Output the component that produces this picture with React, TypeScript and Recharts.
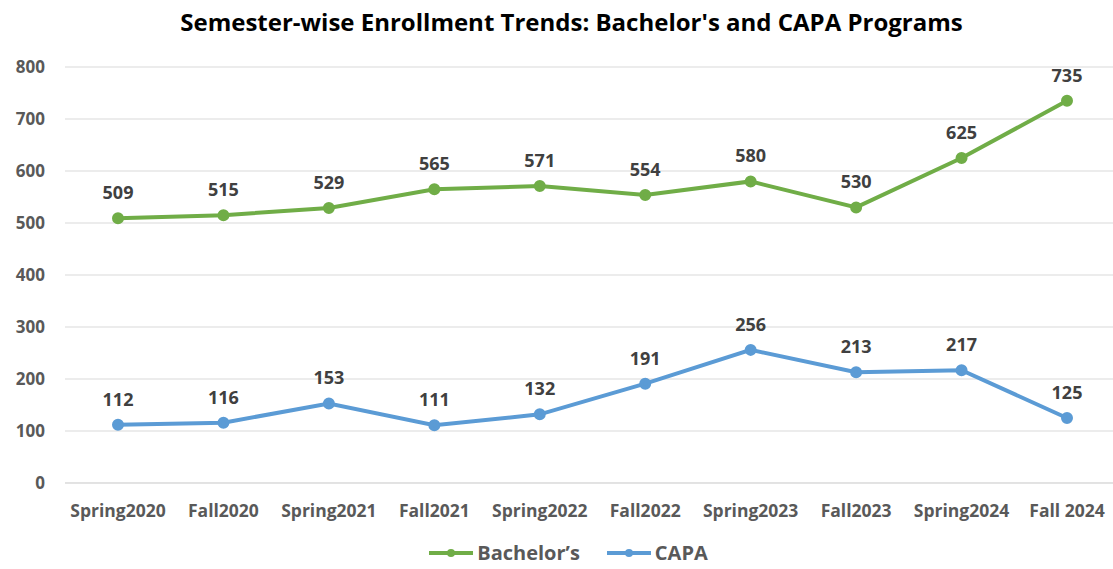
import { LineChart, Line, XAxis, YAxis, CartesianGrid, Legend, LabelList } from "recharts";

const semesters = [
  "Spring2020", "Fall2020", "Spring2021", "Fall2021", "Spring2022",
  "Fall2022", "Spring2023", "Fall2023", "Spring2024", "Fall 2024",
];
const bachelors = [509, 515, 529, 565, 571, 554, 580, 530, 625, 735];
const capa = [112, 116, 153, 111, 132, 191, 256, 213, 217, 125];
const yTicks = [0, 100, 200, 300, 400, 500, 600, 700, 800];

const data = semesters.map((s, i) => ({ name: s, bachelors: bachelors[i], capa: capa[i] }));

const FONT = "'Open Sans', sans-serif";
const GREEN = "#70ad47";
const BLUE = "#5b9bd5";

// legend entries: line with a dot in the middle, like the spreadsheet one
function renderLegend(props: any) {
  const items = props.payload || [];
  return (
    <div style={{ display: "flex", justifyContent: "center", alignItems: "center", gap: 26, lineHeight: "24px" }}>
      {items.map((it: any) => (
        <div key={it.value} style={{ display: "flex", alignItems: "center" }}>
          <svg width={46} height={12} style={{ marginRight: 3 }}>
            <line x1={1} y1={6} x2={45} y2={6} stroke={it.color} strokeWidth={4} />
            <circle cx={23} cy={6} r={4} fill={it.color} />
          </svg>
          <span style={{ color: "#595959", fontSize: 20, fontWeight: 700, fontFamily: FONT }}>{it.value}</span>
        </div>
      ))}
    </div>
  );
}

export default function App() {
  return (
    <div style={{ position: "absolute", left: 0, top: 0, width: 1113, height: 569, overflow: "hidden", background: "#fff", fontFamily: FONT }}>
      <div style={{ position: "absolute", top: 5, left: 0, width: 1143, textAlign: "center", fontSize: 24, fontWeight: 700, color: "#000" }}>
        Semester-wise Enrollment Trends: Bachelor's and CAPA Programs
      </div>
      <LineChart width={1120} height={569} data={data} margin={{ top: 67, right: 0, left: 0, bottom: 20 }}>
        <CartesianGrid vertical={false} stroke="#d9d9d9" />
        <XAxis
          dataKey="name"
          tickLine={false}
          axisLine={{ stroke: "#d9d9d9" }}
          tickSize={0}
          tickMargin={22}
          height={40}
          interval={0}
          padding={{ left: 53, right: 53 }}
          tick={{ fontSize: 17.5, fontWeight: 700, fill: "#595959", fontFamily: FONT }}
        />
        <YAxis
          domain={[0, 800]}
          ticks={yTicks}
          width={65}
          tickLine={false}
          axisLine={false}
          tickSize={0}
          tickMargin={20}
          tick={{ fontSize: 17, fontWeight: 700, fill: "#595959", fontFamily: FONT }}
        />
        <Legend
          verticalAlign="bottom"
          height={26}
          content={renderLegend}
          wrapperStyle={{ bottom: 2, left: 8 }}
        />
        <Line
          name="Bachelor’s"
          dataKey="bachelors"
          stroke={GREEN}
          strokeWidth={4}
          dot={{ r: 4, fill: GREEN, stroke: GREEN }}
          isAnimationActive={false}
        >
          <LabelList dataKey="bachelors" position="top" offset={19} style={{ fontSize: 18, fontWeight: 700, fill: "#404040", fontFamily: FONT }} />
        </Line>
        <Line
          name="CAPA"
          dataKey="capa"
          stroke={BLUE}
          strokeWidth={4}
          dot={{ r: 4, fill: BLUE, stroke: BLUE }}
          isAnimationActive={false}
        >
          <LabelList dataKey="capa" position="top" offset={19} style={{ fontSize: 18, fontWeight: 700, fill: "#404040", fontFamily: FONT }} />
        </Line>
      </LineChart>
    </div>
  );
}
